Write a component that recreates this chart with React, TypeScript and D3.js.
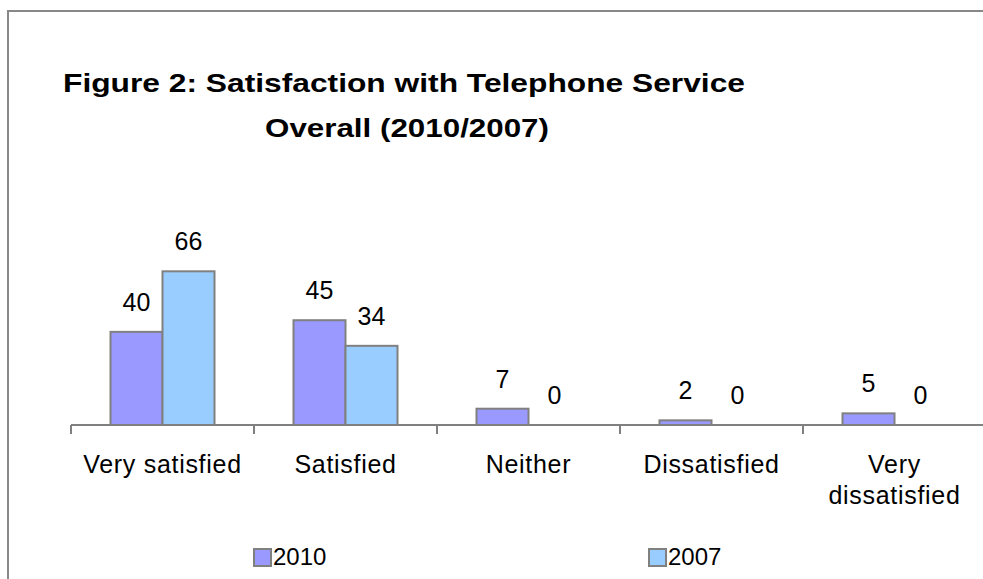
import React from "react";
import * as d3 from "d3";

const categories = ["Very satisfied", "Satisfied", "Neither", "Dissatisfied", "Very dissatisfied"];
const categoryLines = [["Very satisfied"], ["Satisfied"], ["Neither"], ["Dissatisfied"], ["Very", "dissatisfied"]];
const series = ["2010", "2007"];
const values2010 = [40, 45, 7, 2, 5];
const values2007 = [66, 34, 0, 0, 0];
const colors = ["#9999FF", "#99CCFF"];

const W = 983;
const H = 579;
const axisY = 425;
const FONT = "'Liberation Sans', Arial, sans-serif";

export default function App() {
  const x0 = d3.scaleBand<string>().domain(categories).range([71, 986]).padding(0);
  const groupW = x0.bandwidth() * (104 / 183);
  const x1 = d3.scaleBand<string>().domain(series).range([0, groupW]).padding(0);
  const y = d3.scaleLinear().domain([0, 70]).range([axisY, axisY - 163]);
  const data = [values2010, values2007];

  return (
    <>
      <style>{`html,body{margin:0;padding:0;overflow:hidden;background:#fff}`}</style>
      <svg width={W} height={H} style={{ display: "block", background: "#fff" }} fontFamily={FONT}>
        <path d={`M8,${H}V11H${W}`} fill="none" stroke="#888" strokeWidth={2} />
        <text x={63} y={92} fontSize={26} fontWeight="bold" textLength={682} lengthAdjust="spacingAndGlyphs" fill="#000">
          Figure 2: Satisfaction with Telephone Service
        </text>
        <text x={265} y={137} fontSize={26} fontWeight="bold" textLength={284} lengthAdjust="spacingAndGlyphs" fill="#000">
          Overall (2010/2007)
        </text>

        {categories.map((c, ci) => {
          const gx = (x0(c) as number) + (x0.bandwidth() - groupW) / 2;
          return (
            <g key={c}>
              {series.map((s, si) => {
                const v = data[si][ci];
                const bx = gx + (x1(s) as number);
                const bw = x1.bandwidth();
                return (
                  <g key={s}>
                    {v > 0 && (
                      <rect x={bx} y={y(v)} width={bw} height={axisY - y(v)} fill={colors[si]} stroke="#808080" strokeWidth={2} />
                    )}
                    <text x={bx + bw / 2} y={y(v) - 21} textAnchor="middle" fontSize={25} fill="#000">
                      {v}
                    </text>
                  </g>
                );
              })}
            </g>
          );
        })}

        <line x1={71} x2={W} y1={axisY} y2={axisY} stroke="#808080" strokeWidth={2} />
        {categories.map((c, i) => {
          const tx = x0(c) as number;
          return <line key={"t" + i} x1={tx} x2={tx} y1={axisY} y2={axisY + 9} stroke="#808080" strokeWidth={2} />;
        })}

        {categories.map((c, ci) => (
          <text key={"l" + c} textAnchor="middle" fontSize={25} letterSpacing={0.7} fill="#000">
            {categoryLines[ci].map((ln, li) => (
              <tspan key={li} x={(x0(c) as number) + x0.bandwidth() / 2} y={473 + li * 31}>
                {ln}
              </tspan>
            ))}
          </text>
        ))}

        {series.map((s, si) => {
          const lx = [254, 649][si];
          return (
            <g key={"lg" + s}>
              <rect x={lx} y={549} width={17} height={17} fill={colors[si]} stroke="#808080" strokeWidth={2} />
              <text x={lx + 19} y={565} fontSize={24} fill="#000">
                {s}
              </text>
            </g>
          );
        })}
      </svg>
    </>
  );
}
